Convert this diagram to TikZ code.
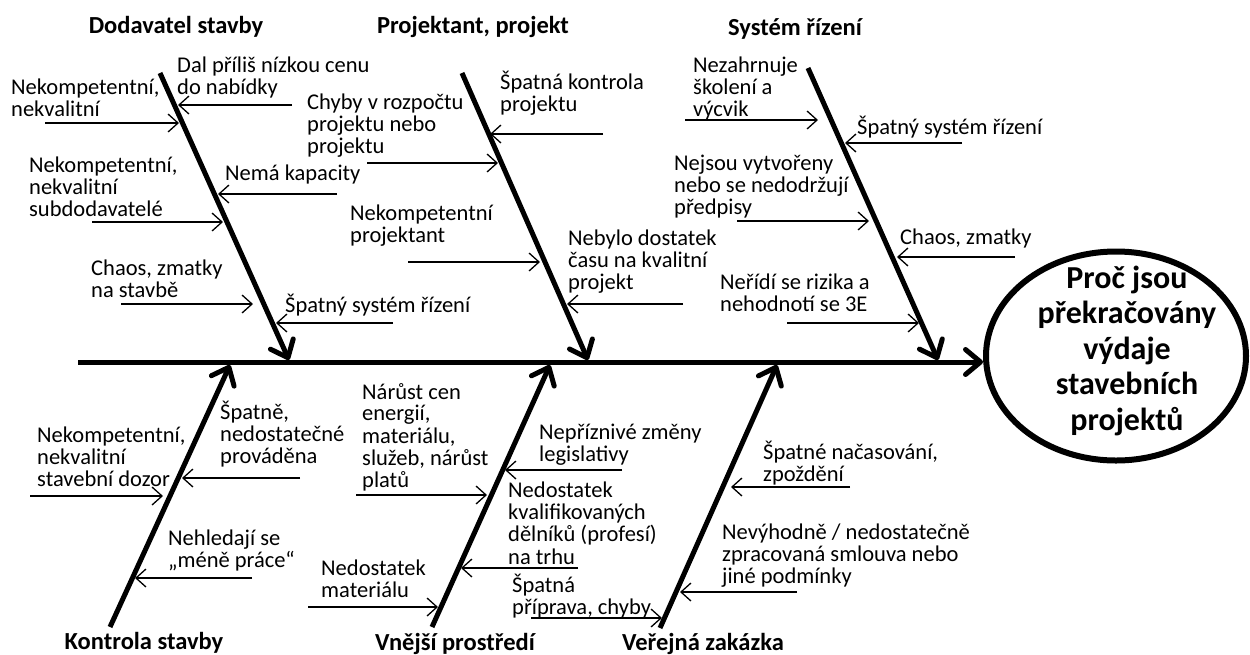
\documentclass[tikz,border=0pt]{standalone}
\usepackage{fontspec}
\setmainfont{Carlito}
\usetikzlibrary{arrows.meta,shapes.geometric}

% multi-line labels whose base is the baseline of the first line
\newcommand{\causetext}[1]{\begin{tabular}[t]{@{}l@{}}#1\end{tabular}}
\newcommand{\effecttext}[1]{\begin{tabular}[t]{@{}c@{}}#1\end{tabular}}

\tikzset{
  lbl/.style={inner sep=0pt, anchor=base west, font=\fontsize{22.5}{21.5}\selectfont},
  ttl/.style={inner sep=0pt, anchor=base, font=\fontsize{24.5}{26}\selectfont\bfseries},
  efftxt/.style={inner sep=0pt, anchor=base, font=\fontsize{32}{35.5}\selectfont\bfseries},
  cause/.style={line width=1.3pt, -{Straight Barb[length=10pt,width=18pt]}},
  bone/.style={line width=5pt, -{Straight Barb[length=15pt,width=25pt,round]}},
  effect/.style={draw, ellipse, line width=6pt, inner sep=0pt,
                 minimum width=260pt, minimum height=209pt},
}

\begin{document}
\begin{tikzpicture}[x=1pt,y=-1pt]
\fill[white] (0,0) rectangle (1250,654);
\useasboundingbox (0,0) rectangle (1250,654);

% effect
\node[effect] (eff) at (1116,356) {};
\node[efftxt] (effq) at (1127,288)
  {\effecttext{Proč jsou\\překračovány\\výdaje\\stavebních\\projektů}};

% spine
\coordinate (spL) at (78,362);
\draw[bone] (spL) -- (spL -| eff.west);

% main bones
\coordinate (b1s) at (160,73);  \coordinate (b1e) at (289,360);
\coordinate (b2s) at (462,73);  \coordinate (b2e) at (588,360);
\coordinate (b3s) at (808,68);  \coordinate (b3e) at (938,360);
\coordinate (b4s) at (110,627); \coordinate (b4e) at (230,365);
\coordinate (b5s) at (432,627); \coordinate (b5e) at (550,365);
\coordinate (b6s) at (660,628); \coordinate (b6e) at (777,365);
\foreach \b in {1,...,6} \draw[bone] (b\b s) -- (b\b e);

% category titles
\node[ttl] (t1) at (176,33) {Dodavatel stavby};
\node[ttl] (t2) at (473,33) {Projektant, projekt};
\node[ttl] (t3) at (795,35) {Systém řízení};
\node[ttl] (t4) at (144,649) {Kontrola stavby};
\node[ttl] (t5) at (455,650) {Vnější prostředí};
\node[ttl] (t6) at (703,650) {Veřejná zakázka};

% causes: Dodavatel stavby
\node[lbl] (cA) at (11,94) {\causetext{Nekompetentní,\\nekvalitní}};
\node[lbl] (cB) at (177,72) {\causetext{Dal příliš nízkou cenu\\do nabídky}};
\node[lbl] (cC) at (29,172) {\causetext{Nekompetentní,\\nekvalitní\\subdodavatelé}};
\node[lbl] (cD) at (225,180) {Nemá kapacity};
\node[lbl] (cE) at (91,275) {\causetext{Chaos, zmatky\\na stavbě}};
\node[lbl] (cF) at (285,312) {Špatný systém řízení};
\coordinate (aA0) at (45,123);  \coordinate (aA1) at (179,123);
\coordinate (aB0) at (292,105); \coordinate (aB1) at (178,105);
\coordinate (aC0) at (92,222);  \coordinate (aC1) at (223,222);
\coordinate (aD0) at (337,194); \coordinate (aD1) at (218,194);
\coordinate (aE0) at (121,304); \coordinate (aE1) at (253,304);
\coordinate (aF0) at (393,323); \coordinate (aF1) at (276,323);

% causes: Projektant, projekt
\node[lbl] (cG) at (307,109) {\causetext{Chyby v rozpočtu\\projektu nebo\\projektu}};
\node[lbl] (cH) at (500,89) {\causetext{Špatná kontrola\\projektu}};
\node[lbl] (cI) at (350,220) {\causetext{Nekompetentní\\projektant}};
\node[lbl] (cJ) at (568,245) {\causetext{Nebylo dostatek\\času na kvalitní\\projekt}};
\coordinate (aG0) at (367,163); \coordinate (aG1) at (498,163);
\coordinate (aH0) at (603,134); \coordinate (aH1) at (490,134);
\coordinate (aI0) at (408,262); \coordinate (aI1) at (540,262);
\coordinate (aJ0) at (683,304); \coordinate (aJ1) at (567,304);

% causes: Systém řízení
\node[lbl] (cK) at (693,72) {\causetext{Nezahrnuje\\školení a\\výcvik}};
\node[lbl] (cL) at (857,134) {Špatný systém řízení};
\node[lbl] (cM) at (674,170) {\causetext{Nejsou vytvořeny\\nebo se nedodržují\\předpisy}};
\node[lbl] (cN) at (900,244) {Chaos, zmatky};
\node[lbl] (cO) at (720,289) {\causetext{Neřídí se rizika a\\nehodnotí se 3E}};
\coordinate (aK0) at (685,120);  \coordinate (aK1) at (818,120);
\coordinate (aL0) at (962,143);  \coordinate (aL1) at (845,143);
\coordinate (aM0) at (737,221);  \coordinate (aM1) at (869,221);
\coordinate (aN0) at (1015,257); \coordinate (aN1) at (897,257);
\coordinate (aO0) at (787,323);  \coordinate (aO1) at (919,323);

% causes: Kontrola stavby
\node[lbl] (cP) at (37,442) {\causetext{Nekompetentní,\\nekvalitní\\stavební dozor}};
\node[lbl] (cQ) at (220,419) {\causetext{Špatně,\\nedostatečné\\prováděna}};
\node[lbl] (cR) at (168,545) {\causetext{Nehledají se\\„méně práce“}};
\coordinate (aP0) at (30,496);  \coordinate (aP1) at (163,496);
\coordinate (aQ0) at (300,478); \coordinate (aQ1) at (182,478);
\coordinate (aR0) at (252,578); \coordinate (aR1) at (135,578);

% causes: Vnější prostředí
\node[lbl] (cS) at (362,399) {\causetext{Nárůst cen\\energií,\\materiálu,\\služeb, nárůst\\platů}};
\node[lbl] (cT) at (539,439) {\causetext{Nepříznivé změny\\legislativy}};
\node[lbl] (cU) at (508,497) {\causetext{Nedostatek\\kvalifikovaných\\dělníků (profesí)\\na trhu}};
\node[lbl] (cV) at (321,575) {\causetext{Nedostatek\\materiálu}};
\coordinate (aS0) at (356,495); \coordinate (aS1) at (487,495);
\coordinate (aT0) at (622,470); \coordinate (aT1) at (505,470);
\coordinate (aU0) at (578,568); \coordinate (aU1) at (461,568);
\coordinate (aV0) at (308,607); \coordinate (aV1) at (438,607);

% causes: Veřejná zakázka
\node[lbl] (cW) at (512,592) {\causetext{Špatná\\příprava, chyby}};
\node[lbl] (cX) at (763,459) {\causetext{Špatné načasování,\\zpoždění}};
\node[lbl] (cY) at (722,539) {\causetext{Nevýhodně / nedostatečně\\zpracovaná smlouva nebo\\jiné podmínky}};
\coordinate (aW0) at (531,618); \coordinate (aW1) at (662,618);
\coordinate (aX0) at (850,487); \coordinate (aX1) at (731,487);
\coordinate (aY0) at (797,592); \coordinate (aY1) at (680,592);

\foreach \c in {A,B,C,D,E,F,G,H,I,J,K,L,M,N,O,P,Q,R,S,T,U,V,W,X,Y}
  \draw[cause] (a\c0) -- (a\c1);
\end{tikzpicture}
\end{document}
